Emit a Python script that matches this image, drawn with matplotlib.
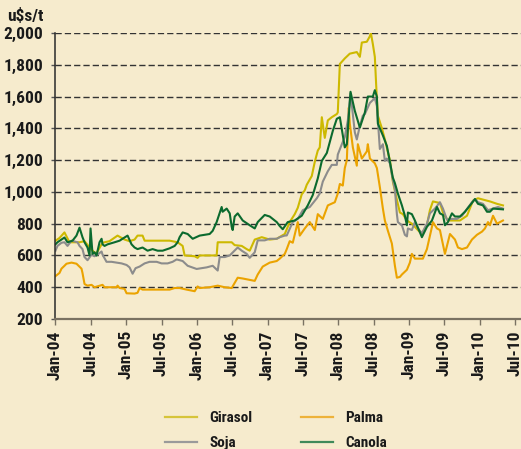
import os
import matplotlib
matplotlib.use("Agg")
import matplotlib.pyplot as plt
from matplotlib import font_manager
from matplotlib.font_manager import FontProperties
from matplotlib.lines import Line2D

# ---------------- data (x in decimal years) ----------------
girasol_t = [2004.000, 2004.057, 2004.127, 2004.198, 2004.340, 2004.411, 2004.482, 2004.552, 2004.581,
             2004.666, 2004.765, 2004.878, 2004.977, 2005.048, 2005.119, 2005.161, 2005.232, 2005.261,
             2005.615, 2005.728, 2005.799, 2005.827, 2005.969, 2006.011, 2006.040, 2006.280, 2006.295,
             2006.493, 2006.535, 2006.635, 2006.705, 2006.748, 2006.819, 2006.918, 2007.031, 2007.130,
             2007.244, 2007.314, 2007.385, 2007.428, 2007.484, 2007.527, 2007.555, 2007.626, 2007.669,
             2007.711, 2007.739, 2007.768, 2007.810, 2007.853, 2007.909, 2007.980, 2007.994, 2008.023,
             2008.093, 2008.164, 2008.263, 2008.306, 2008.334, 2008.405, 2008.448, 2008.462, 2008.490,
             2008.518, 2008.547, 2008.561, 2008.618, 2008.660, 2008.703, 2008.731, 2008.773, 2008.830,
             2008.873, 2008.915, 2008.972, 2009.042, 2009.127, 2009.184, 2009.255, 2009.297, 2009.340,
             2009.439, 2009.482, 2009.552, 2009.722, 2009.822, 2009.907, 2009.977, 2010.147, 2010.246,
             2010.331]
girasol_v = [693, 710, 745, 683, 683, 690, 650, 618, 615,
             680, 690, 725, 700, 690, 700, 725, 725, 693,
             693, 683, 660, 600, 595, 585, 600, 600, 683,
             683, 665, 660, 640, 630, 700, 715, 700, 705,
             735, 810, 860, 900, 985, 1010, 1045, 1100, 1190,
             1260, 1280, 1470, 1340, 1450, 1470, 1490, 1500, 1805,
             1840, 1870, 1880, 1850, 1940, 1945, 1980, 2000, 1930,
             1850, 1580, 1480, 1400, 1330, 1250, 1200, 1065, 950,
             870, 860, 820, 800, 760, 735, 790, 885, 940,
             930, 870, 820, 820, 850, 945, 960, 940, 925,
             915]

palma_t = [2004.000, 2004.057, 2004.085, 2004.127, 2004.156, 2004.227, 2004.297, 2004.368, 2004.382,
           2004.411, 2004.453, 2004.510, 2004.552, 2004.666, 2004.694, 2004.864, 2004.878, 2004.907,
           2004.977, 2005.006, 2005.119, 2005.161, 2005.190, 2005.232, 2005.431, 2005.615, 2005.686,
           2005.756, 2005.856, 2005.969, 2006.011, 2006.040, 2006.181, 2006.295, 2006.394, 2006.493,
           2006.578, 2006.649, 2006.705, 2006.819, 2006.861, 2006.932, 2007.031, 2007.130, 2007.173,
           2007.244, 2007.272, 2007.314, 2007.357, 2007.428, 2007.456, 2007.527, 2007.598, 2007.640,
           2007.669, 2007.711, 2007.782, 2007.853, 2007.952, 2007.994, 2008.023, 2008.065, 2008.093,
           2008.122, 2008.150, 2008.164, 2008.207, 2008.263, 2008.278, 2008.334, 2008.405, 2008.419,
           2008.448, 2008.518, 2008.547, 2008.589, 2008.632, 2008.660, 2008.703, 2008.759, 2008.802,
           2008.830, 2008.873, 2008.901, 2008.972, 2009.014, 2009.042, 2009.085, 2009.198, 2009.255,
           2009.326, 2009.340, 2009.397, 2009.439, 2009.467, 2009.510, 2009.581, 2009.652, 2009.694,
           2009.751, 2009.822, 2009.892, 2009.963, 2010.034, 2010.076, 2010.119, 2010.147, 2010.190,
           2010.246, 2010.289, 2010.331]
palma_v = [470, 490, 517, 535, 548, 555, 548, 517, 490,
           420, 410, 415, 400, 415, 400, 400, 410, 395,
           390, 362, 360, 365, 395, 385, 385, 385, 395,
           395, 385, 375, 405, 395, 400, 410, 400, 395,
           460, 455, 450, 440, 480, 530, 555, 565, 580,
           610, 640, 690, 680, 810, 725, 770, 810, 780,
           760, 860, 830, 915, 935, 990, 1050, 1040, 1150,
           1200, 1530, 1430, 1280, 1165, 1300, 1210, 1255, 1300,
           1210, 1180, 1150, 1030, 895, 820, 755, 675, 535,
           460, 465, 480, 510, 555, 610, 580, 580, 640,
           780, 810, 770, 760, 700, 610, 735, 700, 650,
           640, 650, 700, 730, 750, 770, 810, 790, 850,
           800, 810, 820]

soja_t = [2004.000, 2004.028, 2004.085, 2004.127, 2004.170, 2004.227, 2004.312, 2004.340, 2004.382,
          2004.411, 2004.453, 2004.510, 2004.552, 2004.595, 2004.652, 2004.666, 2004.722, 2004.793,
          2004.864, 2004.935, 2005.006, 2005.048, 2005.091, 2005.133, 2005.190, 2005.261, 2005.331,
          2005.431, 2005.501, 2005.586, 2005.657, 2005.714, 2005.799, 2005.870, 2005.997, 2006.139,
          2006.224, 2006.295, 2006.323, 2006.394, 2006.465, 2006.578, 2006.635, 2006.705, 2006.748,
          2006.819, 2006.861, 2006.960, 2007.031, 2007.130, 2007.173, 2007.244, 2007.272, 2007.357,
          2007.428, 2007.499, 2007.598, 2007.697, 2007.739, 2007.782, 2007.853, 2007.909, 2007.980,
          2007.994, 2008.051, 2008.093, 2008.136, 2008.174, 2008.235, 2008.263, 2008.306, 2008.348,
          2008.377, 2008.448, 2008.518, 2008.547, 2008.589, 2008.632, 2008.660, 2008.688, 2008.731,
          2008.773, 2008.802, 2008.830, 2008.844, 2008.901, 2008.943, 2008.972, 2008.986, 2009.042,
          2009.085, 2009.127, 2009.184, 2009.255, 2009.297, 2009.368, 2009.439, 2009.482, 2009.538,
          2009.609, 2009.680, 2009.751, 2009.892, 2009.935, 2009.977, 2010.048, 2010.119, 2010.190,
          2010.261, 2010.331]
soja_v = [630, 660, 680, 683, 660, 693, 683, 660, 640,
          590, 570, 605, 595, 605, 625, 605, 560, 560,
          555, 550, 540, 525, 485, 520, 530, 550, 560,
          560, 550, 550, 560, 575, 565, 535, 515, 525,
          535, 505, 590, 590, 600, 650, 630, 610, 585,
          620, 695, 695, 705, 705, 715, 725, 726, 810,
          830, 885, 905, 960, 990, 1065, 1130, 1170, 1170,
          1235, 1300, 1345, 1450, 1620, 1375, 1330, 1415, 1480,
          1490, 1560, 1590, 1540, 1270, 1300, 1195, 1210, 1180,
          1075, 1015, 860, 810, 790, 730, 720, 770, 760,
          810, 770, 740, 800, 865, 895, 935, 895, 825,
          830, 830, 850, 935, 955, 935, 925, 885, 895,
          905, 895]

canola_t = [2004.000, 2004.028, 2004.127, 2004.170, 2004.241, 2004.297, 2004.340, 2004.382, 2004.411,
            2004.453, 2004.482, 2004.496, 2004.524, 2004.552, 2004.581, 2004.623, 2004.652, 2004.666,
            2004.694, 2004.737, 2004.836, 2004.907, 2004.977, 2005.020, 2005.076, 2005.119, 2005.161,
            2005.232, 2005.303, 2005.374, 2005.445, 2005.516, 2005.615, 2005.686, 2005.728, 2005.756,
            2005.799, 2005.870, 2005.941, 2006.040, 2006.181, 2006.224, 2006.280, 2006.295, 2006.351,
            2006.365, 2006.422, 2006.465, 2006.493, 2006.507, 2006.535, 2006.578, 2006.649, 2006.748,
            2006.819, 2006.861, 2006.960, 2007.031, 2007.130, 2007.173, 2007.215, 2007.286, 2007.385,
            2007.484, 2007.569, 2007.640, 2007.711, 2007.768, 2007.839, 2007.924, 2007.980, 2008.023,
            2008.093, 2008.122, 2008.174, 2008.235, 2008.306, 2008.377, 2008.419, 2008.490, 2008.518,
            2008.547, 2008.561, 2008.632, 2008.688, 2008.731, 2008.773, 2008.802, 2008.844, 2008.901,
            2008.943, 2008.972, 2008.986, 2009.042, 2009.085, 2009.156, 2009.184, 2009.255, 2009.326,
            2009.397, 2009.439, 2009.482, 2009.510, 2009.552, 2009.609, 2009.652, 2009.722, 2009.793,
            2009.864, 2009.935, 2009.977, 2010.048, 2010.105, 2010.147, 2010.190, 2010.331]
canola_v = [670, 683, 713, 683, 693, 725, 775, 715, 683,
            650, 600, 770, 610, 620, 600, 683, 705, 670,
            660, 670, 683, 693, 713, 725, 670, 650, 640,
            650, 630, 640, 630, 630, 645, 660, 683, 715,
            745, 735, 705, 725, 735, 755, 810, 830, 905,
            875, 895, 865, 780, 760, 845, 865, 820, 790,
            770, 810, 855, 845, 810, 785, 765, 810, 820,
            850, 915, 980, 1085, 1195, 1245, 1385, 1460, 1470,
            1280, 1300, 1630, 1510, 1405, 1500, 1600, 1600, 1640,
            1600, 1430, 1355, 1290, 1190, 1090, 1055, 990, 915,
            850, 790, 870, 860, 820, 745, 715, 780, 820,
            905, 865, 855, 790, 810, 865, 845, 845, 875,
            915, 955, 925, 915, 875, 875, 895, 890]

series_names = ["Girasol", "Palma", "Soja", "Canola"]
series_colors = ["#CDB900", "#EBA300", "#8C8C8C", "#0B6A2E"]
legend_colors = ["#D6C43A", "#EDB23A", "#9A9A9A", "#3F8A5A"]

tick_years = [2004.0, 2004.5, 2005.0, 2005.5, 2006.0, 2006.5, 2007.0, 2007.5,
              2008.0, 2008.5, 2009.0, 2009.5, 2010.0, 2010.5]
tick_labels = ["Jan-04", "Jul-04", "Jan-05", "Jul-05", "Jan-06", "Jul-06", "Jan-07",
               "Jul-07", "Jan-08", "Jul-08", "Jan-09", "Jul-09", "Jan-10", "Jul-10"]
y_ticks = [200, 400, 600, 800, 1000, 1200, 1400, 1600, 1800, 2000]
y_labels = ["200", "400", "600", "800", "1,000", "1,200", "1,400", "1,600", "1,800", "2,000"]

# ---------------- fonts: look for a condensed / narrow face ----------------
def find_condensed():
    entries = font_manager.fontManager.ttflist
    def is_narrow(f):
        base = os.path.basename(f.fname).lower()
        nm = f.name.lower()
        return ("condensed" in str(f.stretch) or "narrow" in nm or "condensed" in nm
                or "condensed" in base or "narrow" in base)
    narrow = [f for f in entries if is_narrow(f) and "italic" not in f.style
              and "oblique" not in f.style and "ital" not in os.path.basename(f.fname).lower()
              and "oblique" not in os.path.basename(f.fname).lower()]
    def wt(f):
        w = f.weight
        if isinstance(w, str):
            w = {"bold": 700, "semibold": 600, "medium": 500, "normal": 400, "regular": 400}.get(w, 400)
        return w
    pref_order = ["roboto", "liberation", "open sans", "noto", "dejavu", "lato", "inter"]
    def key(f):
        nm = f.name.lower()
        rank = next((i for i, p in enumerate(pref_order) if p in nm), len(pref_order))
        return (abs(wt(f) - 700), rank)
    if narrow:
        narrow.sort(key=key)
        return FontProperties(fname=narrow[0].fname)
    return FontProperties(family="Roboto", weight="bold")

FP = find_condensed()

def fp(size):
    p = FP.copy()
    p.set_size(size)
    return p

BG = "#F6EBCD"
W, H = 521, 449
fig = plt.figure(figsize=(W / 100, H / 100), dpi=100, facecolor=BG)
ax = fig.add_axes([0.1065, 0.2895, 0.8935, 0.637])
ax.set_facecolor(BG)

data = [(girasol_t, girasol_v), (palma_t, palma_v), (soja_t, soja_v), (canola_t, canola_v)]
for (t, v), name, col in zip(data, series_names, series_colors):
    ax.plot(t, v, color=col, lw=1.5, label=name)

ax.set_xlim(2004.0, 2010.586)
ax.set_ylim(200, 2000)
ax.set_yticks(y_ticks)
ax.set_yticklabels(y_labels, fontproperties=fp(12.5))
ax.set_xticks(tick_years)
ax.set_xticklabels(tick_labels, rotation=90, fontproperties=fp(12.5))

for y in y_ticks[1:]:
    ax.axhline(y, color="#333333", lw=1.0, ls=(0, (4.5, 2.2)), zorder=0.5)

for s in ["top", "right"]:
    ax.spines[s].set_visible(False)
ax.spines["left"].set_color("#2a2a2a")
ax.spines["left"].set_linewidth(1.1)
ax.spines["bottom"].set_color("#7a7262")
ax.spines["bottom"].set_linewidth(1.6)

ax.tick_params(axis="y", length=3, width=1, color="#555555", pad=6, labelcolor="#1a1a1a")
ax.tick_params(axis="x", length=4, width=1, color="#7a7262", pad=4, labelcolor="#1a1a1a")

fig.text(44 / W, 1 - 16 / H, "u$s/t", ha="right", va="center", fontproperties=fp(12.5),
         color="#1a1a1a")

# ---------------- legend (2 x 2 grid, row-major like the reference) ----------------
col_x = [165, 301]          # handle start (px)
row_y = [416.5, 441.5]      # row centre (px from top)
handle_len, text_gap = 32, 12
for i, (name, col) in enumerate(zip(series_names, legend_colors)):
    r, c = divmod(i, 2)
    x0 = col_x[c]
    yf = 1 - row_y[r] / H
    fig.add_artist(Line2D([x0 / W, (x0 + handle_len) / W], [yf, yf], transform=fig.transFigure,
                          color=col, lw=1.6))
    fig.text((x0 + handle_len + text_gap) / W, yf, name, ha="left", va="center_baseline",
             fontproperties=fp(11), color="#1a1a1a")

fig.savefig("out.png", dpi=100, facecolor=BG)
